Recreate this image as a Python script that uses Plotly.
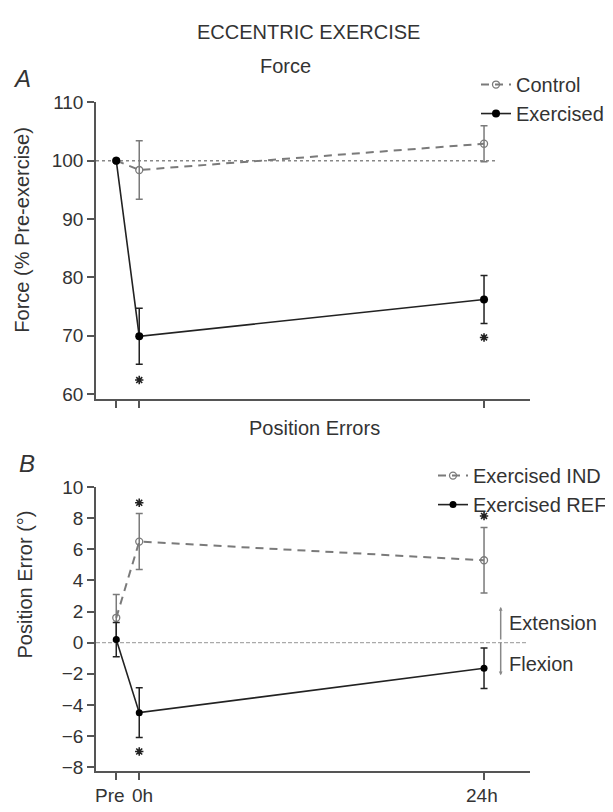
import plotly.graph_objects as go

# ---------------- data ----------------
time_labels = ["Pre", "0h", "24h"]
time_hours = [-1.6, 0, 24]

force_control = [100, 98.4, 102.9]
force_control_err = [0, 5.0, 3.1]
force_exercised = [100, 69.9, 76.2]
force_exercised_err = [0, 4.8, 4.1]
force_sig_x = [0, 24]
force_sig_y = [62.4, 69.7]
force_ref = 100

pos_ind = [1.6, 6.5, 5.3]
pos_ind_err = [1.5, 1.8, 2.1]
pos_ref = [0.2, -4.5, -1.65]
pos_ref_err = [1.1, 1.6, 1.3]
pos_sig_x = [0, 24, 0]
pos_sig_y = [9.0, 8.15, -7.0]
pos_ref_line = 0

force_ticks = [60, 70, 80, 90, 100, 110]
pos_ticks = [-8, -6, -4, -2, 0, 2, 4, 6, 8, 10]

# ---------------- styles ----------------
PAGE_W, PAGE_H = 613, 812
OFF = 8  # default body margin of the written html page
W, H = PAGE_W - OFF, PAGE_H - OFF
FONT = "Liberation Sans, Arial, Helvetica, sans-serif"
TXT = "#333333"
AX = "#555555"
GRAY = "#7a7a7a"
DARK = "#222222"

X_RANGE = [-3.01, 27.2]


def px_x(p):
    return (p - OFF) / W


def px_y(p):
    return 1 - (p - OFF) / H


fig = go.Figure()

# Panel A
fig.add_trace(go.Scatter(
    x=time_hours, y=force_control, name="Control", legend="legend",
    mode="lines+markers",
    line=dict(color=GRAY, width=2, dash="8px,6px"),
    marker=dict(symbol="circle-open", size=7, color=GRAY, line=dict(width=1.3)),
    error_y=dict(type="data", array=force_control_err, visible=True,
                 color=GRAY, thickness=1.5, width=3.5),
    xaxis="x", yaxis="y"))
fig.add_trace(go.Scatter(
    x=time_hours, y=force_exercised, name="Exercised", legend="legend",
    mode="lines+markers",
    line=dict(color=DARK, width=1.6),
    marker=dict(symbol="circle", size=8, color="#000000"),
    error_y=dict(type="data", array=force_exercised_err, visible=True,
                 color=DARK, thickness=1.5, width=3.5),
    xaxis="x", yaxis="y"))
fig.add_trace(go.Scatter(
    x=force_sig_x, y=force_sig_y, mode="markers", showlegend=False,
    marker=dict(symbol="asterisk-open", size=7, color=DARK, line=dict(width=1.6, color=DARK)),
    xaxis="x", yaxis="y"))

# Panel B
fig.add_trace(go.Scatter(
    x=time_hours, y=pos_ind, name="Exercised IND", legend="legend2",
    mode="lines+markers",
    line=dict(color=GRAY, width=2, dash="8px,6px"),
    marker=dict(symbol="circle-open", size=7, color=GRAY, line=dict(width=1.3)),
    error_y=dict(type="data", array=pos_ind_err, visible=True,
                 color=GRAY, thickness=1.5, width=3.5),
    xaxis="x2", yaxis="y2"))
fig.add_trace(go.Scatter(
    x=time_hours, y=pos_ref, name="Exercised REF", legend="legend2",
    mode="lines+markers",
    line=dict(color=DARK, width=1.6),
    marker=dict(symbol="circle", size=7, color="#000000"),
    error_y=dict(type="data", array=pos_ref_err, visible=True,
                 color=DARK, thickness=1.5, width=3.5),
    xaxis="x2", yaxis="y2"))
fig.add_trace(go.Scatter(
    x=pos_sig_x, y=pos_sig_y, mode="markers", showlegend=False,
    marker=dict(symbol="asterisk-open", size=7, color=DARK, line=dict(width=1.6, color=DARK)),
    xaxis="x2", yaxis="y2"))

common = dict(showline=True, linecolor=AX, linewidth=1.5, ticks="outside",
              ticklen=7, tickwidth=1.5, tickcolor=AX, showgrid=False,
              zeroline=False, tickfont=dict(family=FONT, size=19, color=TXT),
              fixedrange=True)

xdom = [px_x(96), px_x(530)]
fig.update_layout(
    width=W, height=H, margin=dict(l=0, r=0, t=0, b=0),
    paper_bgcolor="white", plot_bgcolor="white",
    font=dict(family=FONT, size=19, color=TXT),
    xaxis=dict(domain=xdom, range=X_RANGE, tickvals=time_hours,
               showticklabels=False, anchor="y", **common),
    yaxis=dict(domain=[px_y(396.7), px_y(94)], range=[59.16, 110],
               tickvals=force_ticks, anchor="x", **common),
    xaxis2=dict(domain=xdom, range=X_RANGE, tickvals=time_hours,
                showticklabels=False, anchor="y2", **common),
    yaxis2=dict(domain=[px_y(776.7), px_y(486.7)], range=[-8.28, 10],
                tickvals=pos_ticks,
                ticktext=[str(v).replace("-", "\u2212") for v in pos_ticks],
                anchor="x2", **common),
    legend=dict(x=px_x(476), y=px_y(56), xanchor="left", yanchor="top",
                bgcolor="rgba(0,0,0,0)", itemwidth=30, tracegroupgap=0,
                font=dict(family=FONT, size=20, color=TXT)),
    legend2=dict(x=px_x(433), y=px_y(455), xanchor="left", yanchor="top",
                 bgcolor="rgba(0,0,0,0)", itemwidth=30, tracegroupgap=0,
                 font=dict(family=FONT, size=20, color=TXT)),
)

# x tick labels of panel B (placed by hand to avoid overlap / rotation)
label_shift = [-6, 3, -2]
for lab, xv, sh in zip(time_labels, time_hours, label_shift):
    fig.add_annotation(text=lab, x=xv, y=px_y(801.5), xref="x2", yref="paper",
                       xshift=sh, showarrow=False, xanchor="center", yanchor="middle",
                       font=dict(family=FONT, size=19, color=TXT))

# reference lines
fig.add_shape(type="line", xref="x domain", yref="y", x0=0, x1=0.92,
              y0=force_ref, y1=force_ref,
              line=dict(color="#888888", width=1.5, dash="dot"), layer="below")
fig.add_shape(type="line", xref="x2 domain", yref="y2", x0=0, x1=0.995,
              y0=pos_ref_line, y1=pos_ref_line,
              line=dict(color="#aaaaaa", width=1.3, dash="4px,2px"), layer="below")

# Extension / Flexion arrows
for y_end in (2.3, -2.1):
    fig.add_annotation(x=25.16, y=y_end, ax=25.16, ay=0.1, xref="x2", yref="y2",
                       axref="x2", ayref="y2", text="", showarrow=True,
                       arrowhead=2, arrowsize=0.5, arrowwidth=1.5, arrowcolor="#888888")

ann = [
    dict(text="ECCENTRIC EXERCISE", x=px_x(308), y=px_y(22), size=20),
    dict(text="Force", x=px_x(285), y=px_y(57), size=20),
    dict(text="Position Errors", x=px_x(314), y=px_y(426), size=20),
    dict(text="<i>A</i>", x=px_x(22), y=px_y(70), size=24),
    dict(text="<i>B</i>", x=px_x(27), y=px_y(463), size=24),
]
for a in ann:
    fig.add_annotation(text=a["text"], x=a["x"], y=a["y"], xref="paper", yref="paper",
                       showarrow=False, xanchor="center", yanchor="middle",
                       font=dict(family=FONT, size=a["size"], color=TXT))

fig.add_annotation(text="Force (% Pre-exercise)", x=px_x(22), y=px_y(224),
                   xref="paper", yref="paper", showarrow=False, textangle=-90,
                   xanchor="center", yanchor="middle",
                   font=dict(family=FONT, size=20, color=TXT))
fig.add_annotation(text="Position Error (°)", x=px_x(25), y=px_y(586),
                   xref="paper", yref="paper", showarrow=False, textangle=-90,
                   xanchor="center", yanchor="middle",
                   font=dict(family=FONT, size=20, color=TXT))
fig.add_annotation(text="Extension", x=px_x(507), y=px_y(625),
                   xref="paper", yref="paper", showarrow=False,
                   xanchor="left", yanchor="middle",
                   font=dict(family=FONT, size=20, color=TXT))
fig.add_annotation(text="Flexion", x=px_x(507), y=px_y(667),
                   xref="paper", yref="paper", showarrow=False,
                   xanchor="left", yanchor="middle",
                   font=dict(family=FONT, size=20, color=TXT))

fig.write_html("out.html")
